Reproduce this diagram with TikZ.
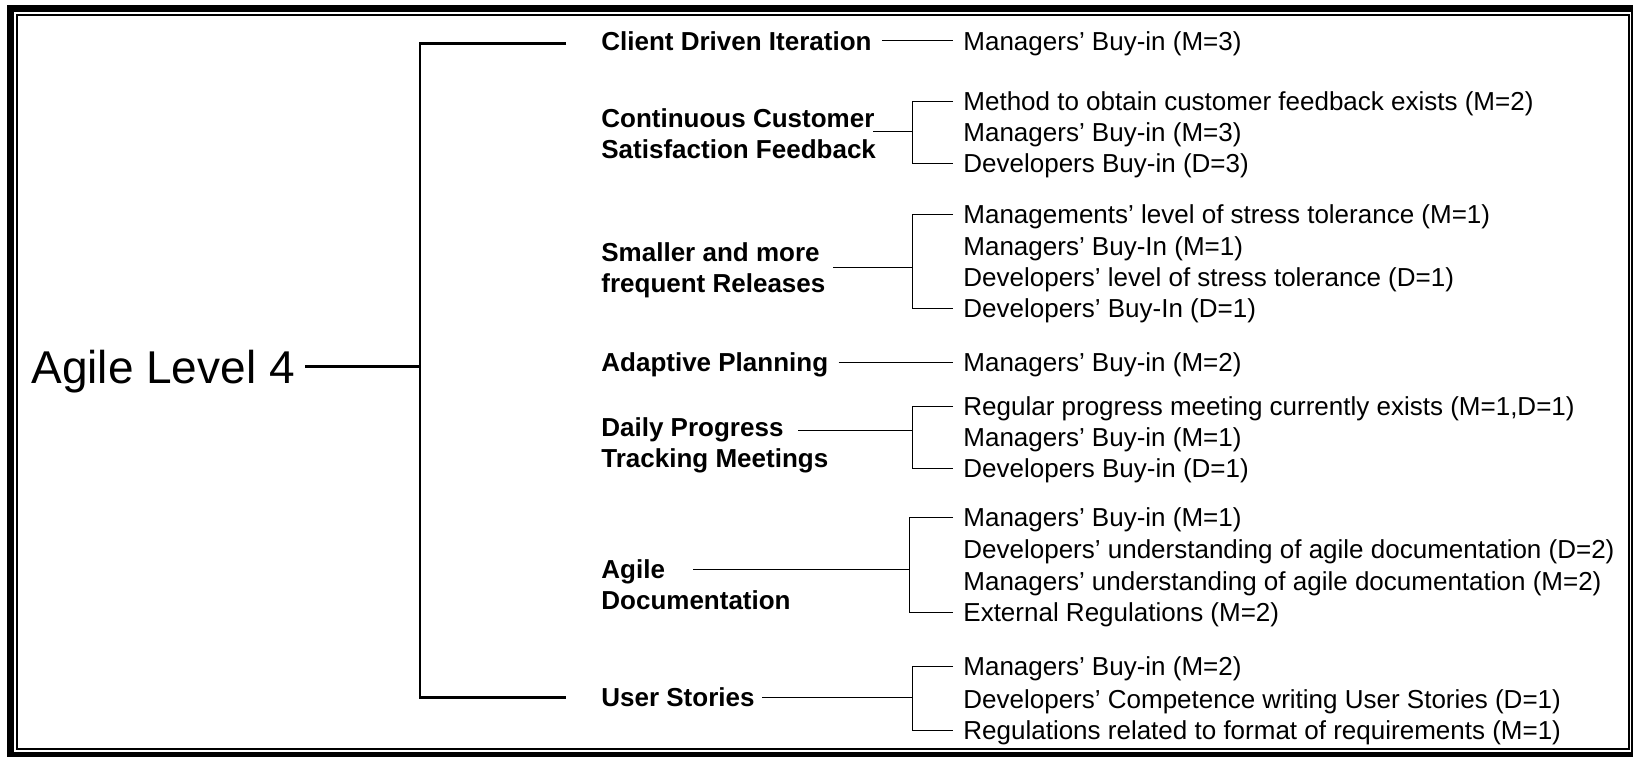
\documentclass[tikz,border=0pt]{standalone}
\usepackage{fontspec}
\setmainfont{Liberation Sans}
\usetikzlibrary{positioning,calc}

\begin{document}
\begin{tikzpicture}[
    x=0.5pt, y=-0.5pt,
    every node/.style={inner sep=5pt},
    rootbox/.style={anchor=west, font=\fontsize{23}{27}\selectfont, text height=16.5pt, text depth=0pt},
    catbox/.style={anchor=west, align=left, font=\bfseries\fontsize{13}{15.6}\selectfont},
    catline/.style={catbox, text height=9.3pt, text depth=0pt},
    itembox/.style={anchor=west, font=\fontsize{13}{15.6}\selectfont, text height=9.3pt, text depth=0pt},
    trunk/.style={line width=1.1pt, line join=miter},
    link/.style={line width=0.5pt}
]
\useasboundingbox (0,0) rectangle (1633,757);

% double frame
\fill[black] (7,5) rectangle (1633,757);
\fill[white] (14,12) rectangle (1631,752);
\draw[line width=1pt] (17,15) rectangle (1628.5,748.5);

% root and spine
\node[rootbox] (root) at (21,366.5) {Agile Level 4};
\coordinate (top) at (420,43.5);
\coordinate (bot) at (420,697.5);
\coordinate (hub) at (420,366.5);
\coordinate (topend) at (566,43.5);
\coordinate (botend) at (566,697.5);
\draw[trunk] (root.east) -- (hub);
\draw[trunk] (topend) -- (top) -- (bot) -- (botend);

% categories
\node[catline] (c1) at (591,40.8) {Client Driven Iteration};
\node[catbox] (c2) at (591,133.3) {Continuous Customer\\Satisfaction Feedback};
\node[catbox] (c3) at (591,270) {Smaller and more\\frequent Releases};
\node[catline] (c4) at (591,362) {Adaptive Planning};
\node[catbox] (c5) at (591,445) {Daily Progress\\Tracking Meetings};
\node[catbox] (c6) at (591,584.5) {Agile\\Documentation};
\node[catline] (c7) at (591,697) {User Stories};

% items
\node[itembox] (i1) at (953,40.8) {Managers' Buy-in (M=3)};

\node[itembox] (i2a) at (953,101) {Method to obtain customer feedback exists (M=2)};
\node[itembox] (i2b) at (953,132) {Managers' Buy-in (M=3)};
\node[itembox] (i2c) at (953,163.3) {Developers Buy-in (D=3)};

\node[itembox] (i3a) at (953,214.5) {Managements' level of stress tolerance (M=1)};
\node[itembox] (i3b) at (953,246) {Managers' Buy-In (M=1)};
\node[itembox] (i3c) at (953,277.5) {Developers' level of stress tolerance (D=1)};
\node[itembox] (i3d) at (953,308.5) {Developers' Buy-In (D=1)};

\node[itembox] (i4) at (953,362) {Managers' Buy-in (M=2)};

\node[itembox] (i5a) at (953,406) {Regular progress meeting currently exists (M=1,D=1)};
\node[itembox] (i5b) at (953,437.5) {Managers' Buy-in (M=1)};
\node[itembox] (i5c) at (953,468.5) {Developers Buy-in (D=1)};

\node[itembox] (i6a) at (953,517.5) {Managers' Buy-in (M=1)};
\node[itembox] (i6b) at (953,549.5) {Developers' understanding of agile documentation (D=2)};
\node[itembox] (i6c) at (953,581) {Managers' understanding of agile documentation (M=2)};
\node[itembox] (i6d) at (953,612.5) {External Regulations (M=2)};

\node[itembox] (i7a) at (953,666.5) {Managers' Buy-in (M=2)};
\node[itembox] (i7b) at (953,699) {Developers' Competence writing User Stories (D=1)};
\node[itembox] (i7c) at (953,730) {Regulations related to format of requirements (M=1)};

% connectors
\coordinate (s2) at (873,131);   \coordinate (j2) at (912,131);
\coordinate (s3) at (833,267);   \coordinate (j3) at (912,267);
\coordinate (s5) at (798,430);   \coordinate (j5) at (912,430);
\coordinate (s6) at (693,569);   \coordinate (j6) at (909,569);
\coordinate (s7) at (762,697);   \coordinate (j7) at (912,697);

\draw[link] (c1.east) -- (i1.west);
\draw[link] (c4.east) -- (i4.west);

\draw[link] (s2) -- (j2);
\draw[link] (i2a.west) -| (j2) |- (i2c.west);
\draw[link] (s3) -- (j3);
\draw[link] (i3a.west) -| (j3) |- (i3d.west);
\draw[link] (s5) -- (j5);
\draw[link] (i5a.west) -| (j5) |- (i5c.west);
\draw[link] (s6) -- (j6);
\draw[link] (i6a.west) -| (j6) |- (i6d.west);
\draw[link] (s7) -- (j7);
\draw[link] (i7a.west) -| (j7) |- (i7c.west);

\end{tikzpicture}
\end{document}
